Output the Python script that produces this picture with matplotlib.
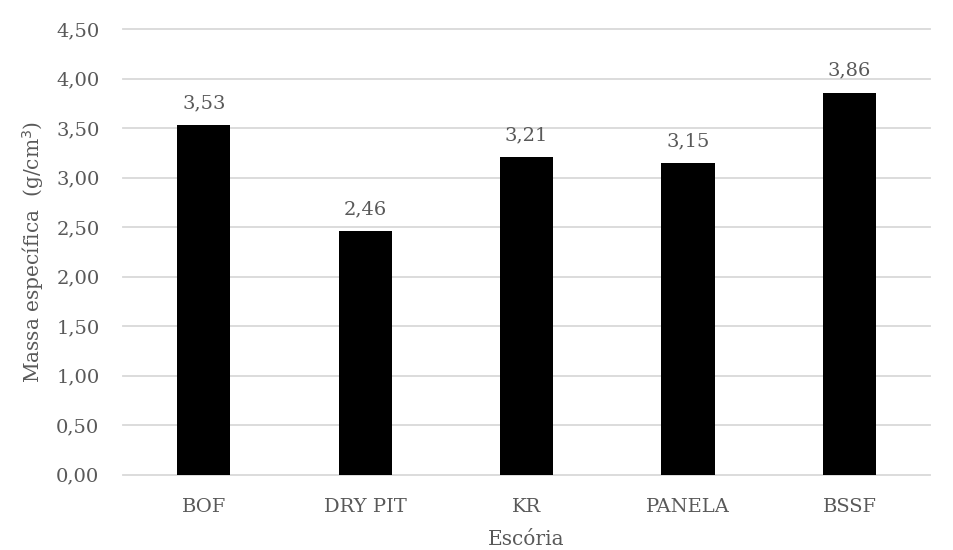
import matplotlib.pyplot as plt

categorias = ["BOF", "DRY PIT", "KR", "PANELA", "BSSF"]
massa = [3.53, 2.46, 3.21, 3.15, 3.86]
yticks = [0.0, 0.5, 1.0, 1.5, 2.0, 2.5, 3.0, 3.5, 4.0, 4.5]

plt.rcParams['font.family'] = ['DejaVu Serif']
cinza = '#595959'

fig = plt.figure(figsize=(9.54, 5.5), dpi=100)
ax = fig.add_axes([0.129, 0.137, 0.846, 0.810])

x = range(len(categorias))
ax.bar(x, massa, width=0.33, color='black', zorder=3)
for xi, v in zip(x, massa):
    ax.text(xi, v + 0.13, f"{v:.2f}".replace('.', ','), ha='center', va='bottom',
            fontsize=14, color=cinza)

ax.set_xlim(-0.5, len(categorias) - 0.5)
ax.set_ylim(0, 4.5)
ax.set_yticks(yticks)
ax.set_yticklabels([f"{t:.2f}".replace('.', ',') for t in yticks])
ax.set_xticks(list(x))
ax.set_xticklabels(categorias)
ax.tick_params(length=0, labelsize=14, colors=cinza)
ax.tick_params(axis='y', pad=17)
ax.tick_params(axis='x', pad=17)
ax.yaxis.grid(True, color='#d9d9d9', linewidth=1.3, zorder=0)
for gl in ax.get_ygridlines():
    gl.set_clip_on(False)
for s in ax.spines.values():
    s.set_visible(False)

ax.set_xlabel("Escória", fontsize=14.5, color=cinza, labelpad=10)
ax.set_ylabel("Massa específica  (g/cm$^3$)", fontsize=14.5, color=cinza, labelpad=7)

fig.savefig("out.png", dpi=100)
